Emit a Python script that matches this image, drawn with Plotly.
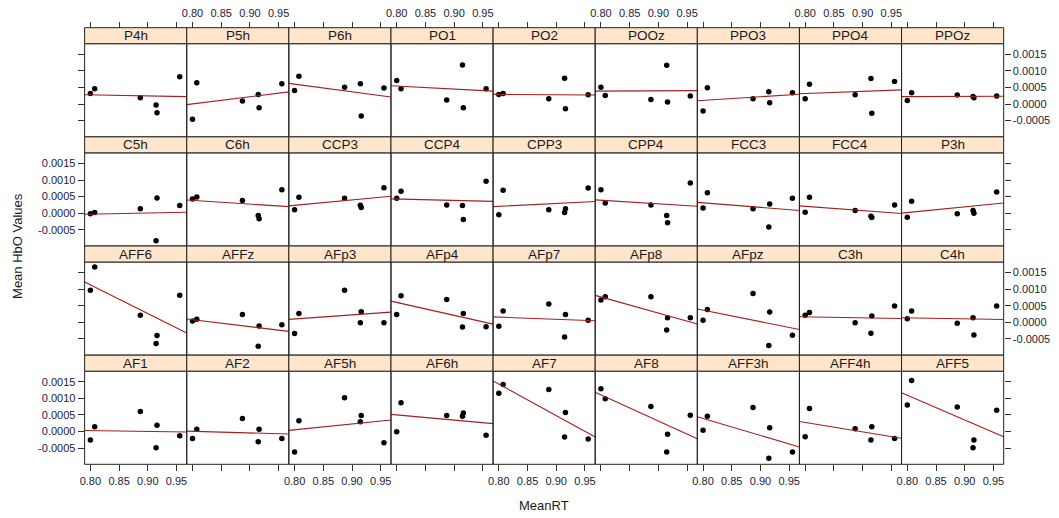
import numpy as np
import plotly.graph_objects as go

# MeanRT of the six subjects (same in every panel)
mean_rt = [0.800, 0.8075, 0.887, 0.9145, 0.916, 0.9556]

x_ticks = [0.80, 0.85, 0.90, 0.95]
x_tick_text = ["0.80", "0.85", "0.90", "0.95"]
y_ticks = [-0.0005, 0.0, 0.0005, 0.0010, 0.0015]
y_tick_text = ["-0.0005", "0.0000", "0.0005", "0.0010", "0.0015"]

# panel rows, listed from top to bottom
names_row1 = ["P4h", "P5h", "P6h", "PO1", "PO2", "POOz", "PPO3", "PPO4", "PPOz"]
hbo_row1 = [
    [0.00032, 0.00046, 0.00019, -0.00003, -0.00026, 0.00082],
    [-0.00046, 0.00064, 0.00009, 0.00029, -0.00011, 0.00061],
    [0.00041, 0.00084, 0.00051, 0.00061, -0.00036, 0.00048],
    [0.00071, 0.00046, 0.00012, 0.00118, -0.00011, 0.00046],
    [0.00029, 0.00032, 0.00016, 0.00078, -0.00014, 0.00028],
    [0.00051, 0.00026, 0.00014, 0.00117, 0.00006, 0.00024],
    [-0.00021, 0.00049, 0.00016, 0.00037, 0.00004, 0.00034],
    [0.00016, 0.00060, 0.00028, 0.00077, -0.00028, 0.00068],
    [0.00011, 0.00034, 0.00027, 0.00023, 0.00019, 0.00024],
]

names_row2 = ["C5h", "C6h", "CCP3", "CCP4", "CPP3", "CPP4", "FCC3", "FCC4", "P3h"]
hbo_row2 = [
    [-0.00002, 0.00002, 0.00013, -0.00083, 0.00046, 0.00023],
    [0.00043, 0.00049, 0.00038, -0.00007, -0.00017, 0.00071],
    [0.00010, 0.00048, 0.00045, 0.00024, 0.00017, 0.00077],
    [0.00045, 0.00066, 0.00025, 0.00023, -0.00019, 0.00096],
    [-0.00005, 0.00069, 0.00010, 0.00002, 0.00013, 0.00076],
    [0.00071, 0.00031, 0.00025, -0.00007, -0.00029, 0.00091],
    [0.00016, 0.00062, 0.00013, -0.00042, 0.00028, 0.00045],
    [0.00003, 0.00048, 0.00008, -0.00009, -0.00013, 0.00025],
    [-0.00012, 0.00036, -0.00002, 0.00008, 0.00000, 0.00064],
]

names_row3 = ["AFF6", "AFFz", "AFp3", "AFp4", "AFp7", "AFp8", "AFpz", "C3h", "C4h"]
hbo_row3 = [
    [0.00097, 0.00167, 0.00021, -0.00064, -0.00040, 0.00082],
    [0.00004, 0.00009, 0.00024, -0.00072, -0.00011, -0.00007],
    [-0.00034, 0.00027, 0.00097, -0.00001, 0.00032, -0.00001],
    [0.00024, 0.00080, 0.00069, -0.00014, 0.00027, -0.00013],
    [-0.00012, 0.00034, 0.00055, -0.00044, 0.00024, 0.00006],
    [0.00067, 0.00077, 0.00077, -0.00023, 0.00014, 0.00014],
    [0.00006, 0.00039, 0.00087, -0.00070, 0.00031, -0.00039],
    [0.00021, 0.00030, -0.00001, -0.00033, 0.00019, 0.00049],
    [0.00011, 0.00034, -0.00003, 0.00014, -0.00038, 0.00049],
]

names_row4 = ["AF1", "AF2", "AF5h", "AF6h", "AF7", "AF8", "AFF3h", "AFF4h", "AFF5"]
hbo_row4 = [
    [-0.00026, 0.00014, 0.00060, -0.00049, 0.00019, -0.00013],
    [-0.00021, 0.00007, 0.00039, -0.00031, 0.00007, -0.00021],
    [-0.00062, 0.00032, 0.00102, 0.00029, 0.00048, -0.00034],
    [-0.00001, 0.00087, 0.00048, 0.00046, 0.00056, -0.00011],
    [0.00115, 0.00142, 0.00127, -0.00017, 0.00057, -0.00023],
    [0.00129, 0.00099, 0.00075, -0.00062, -0.00008, 0.00049],
    [0.00004, 0.00046, 0.00072, -0.00081, 0.00011, -0.00062],
    [-0.00016, 0.00069, 0.00008, -0.00026, 0.00014, -0.00021],
    [0.00080, 0.00154, 0.00074, -0.00049, -0.00026, 0.00064],
]

row_names = [names_row1, names_row2, names_row3, names_row4]
row_values = [hbo_row1, hbo_row2, hbo_row3, hbo_row4]

# ---------------- layout geometry (pixels) ----------------
W, H = 1059, 518
X_LEFT, PANEL_W = 80.0, 102.6
TOP0, ROW_H, STRIP_H = 27.7, 109.15, 16.0
X_RANGE = [0.7900, 0.9678]
Y_RANGE = [-0.00099, 0.00182]

FONT = "Liberation Sans, Arial, sans-serif"
TICK_FONT = dict(family=FONT, size=11, color="#222233")
LINE_COL = "#a31f1f"

fig = go.Figure()
layout = {}
shapes = []
annotations = []

for r in range(4):
    strip_top = TOP0 + r * ROW_H
    panel_top = strip_top + STRIP_H
    panel_bot = strip_top + ROW_H
    yd = [1 - panel_bot / H, 1 - panel_top / H]
    for c in range(9):
        k = r * 9 + c + 1
        sfx = "" if k == 1 else str(k)
        xd = [(X_LEFT + c * PANEL_W) / W, (X_LEFT + (c + 1) * PANEL_W) / W]
        yvals = row_values[r][c]

        # data points
        fig.add_trace(go.Scatter(
            x=mean_rt, y=yvals, mode="markers",
            marker=dict(color="black", size=5.5),
            xaxis="x" + sfx, yaxis="y" + sfx, showlegend=False,
            hoverinfo="skip"))
        # least squares line across the panel
        slope, icpt = np.polyfit(mean_rt, yvals, 1)
        fig.add_trace(go.Scatter(
            x=X_RANGE, y=[icpt + slope * X_RANGE[0], icpt + slope * X_RANGE[1]],
            mode="lines", line=dict(color=LINE_COL, width=1.1),
            xaxis="x" + sfx, yaxis="y" + sfx, showlegend=False,
            hoverinfo="skip"))

        # x axis
        xa = dict(domain=xd, range=X_RANGE, showgrid=False, zeroline=False,
                  showline=False, tickvals=x_ticks, ticktext=x_tick_text,
                  tickfont=TICK_FONT, ticklen=6, tickcolor="#333333",
                  tickwidth=1)
        if r == 0:
            xa.update(anchor="free", position=1 - strip_top / H, side="top",
                      ticks="outside", showticklabels=(c % 2 == 1))
        elif r == 3:
            xa.update(anchor="y" + sfx, side="bottom", ticks="outside",
                      showticklabels=(c % 2 == 0))
        else:
            xa.update(anchor="y" + sfx, visible=False)
        layout["xaxis" + sfx] = xa

        # y axis
        ya = dict(domain=yd, range=Y_RANGE, showgrid=False, zeroline=False,
                  showline=False, tickvals=y_ticks, ticktext=y_tick_text,
                  tickfont=TICK_FONT, ticklen=6, tickcolor="#333333",
                  tickwidth=1, anchor="x" + sfx)
        if c == 0:
            ya.update(side="left", ticks="outside", showticklabels=(r in (1, 3)))
        elif c == 8:
            ya.update(side="right", ticks="outside", showticklabels=(r in (0, 2)))
        else:
            ya.update(visible=False)
        layout["yaxis" + sfx] = ya

        # panel border
        shapes.append(dict(type="rect", xref="x" + sfx + " domain",
                           yref="y" + sfx + " domain", x0=0, x1=1, y0=0, y1=1,
                           line=dict(color="#222222", width=1)))
        # strip
        shapes.append(dict(type="rect", xref="paper", yref="paper",
                           x0=xd[0], x1=xd[1], y0=1 - panel_top / H,
                           y1=1 - strip_top / H, fillcolor="#ffe5cc",
                           line=dict(color="#222222", width=1), layer="above"))
        annotations.append(dict(xref="paper", yref="paper",
                                x=(xd[0] + xd[1]) / 2,
                                y=1 - (strip_top + STRIP_H / 2) / H,
                                text=row_names[r][c], showarrow=False,
                                xanchor="center", yanchor="middle",
                                font=dict(family=FONT, size=13.5, color="#1a1a1a")))

annotations.append(dict(xref="paper", yref="paper",
                        x=(X_LEFT + 4.5 * PANEL_W) / W, y=1 - 505 / H,
                        text="MeanRT", showarrow=False, xanchor="center",
                        yanchor="middle",
                        font=dict(family=FONT, size=13, color="#1a1a1a")))
annotations.append(dict(xref="paper", yref="paper",
                        x=13 / W, y=1 - (TOP0 + 2 * ROW_H) / H,
                        text="Mean HbO Values", showarrow=False, textangle=-90,
                        xanchor="center", yanchor="middle",
                        font=dict(family=FONT, size=13, color="#1a1a1a")))

fig.update_layout(**layout)
fig.update_layout(width=W, height=H, margin=dict(l=0, r=0, t=0, b=0),
                  plot_bgcolor="white", paper_bgcolor="white",
                  showlegend=False, shapes=shapes, annotations=annotations,
                  font=dict(family=FONT))

fig.write_html("out.html")
